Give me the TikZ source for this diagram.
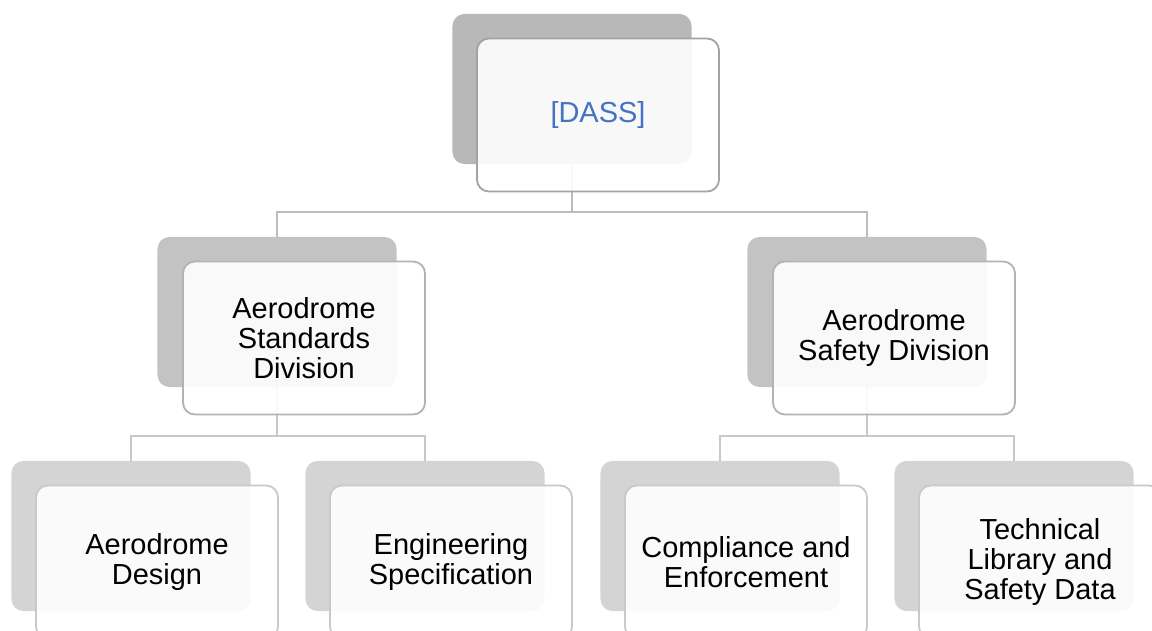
\documentclass[tikz,border=0pt]{standalone}
\usepackage{fontspec}
\setmainfont{Liberation Sans}
\usepackage{tikz}
\definecolor{dassblue}{HTML}{4472C4}
\definecolor{back1}{HTML}{B8B8B8}
\definecolor{back2}{HTML}{C3C3C3}
\definecolor{back3}{HTML}{D4D4D4}
\definecolor{edge1}{HTML}{A3A3A3}
\definecolor{edge2}{HTML}{B3B3B3}
\definecolor{edge3}{HTML}{C9C9C9}
\definecolor{link1}{HTML}{BDBDBD}
\definecolor{link2}{HTML}{C8C8C8}
\tikzstyle{backcard} = [rounded corners=0.3cm, minimum width=5.975cm, minimum height=3.75cm, inner sep=0pt]
\tikzstyle{frontcard} = [draw, line width=1.3pt, fill=white, fill opacity=0.9, text opacity=1, rounded corners=0.3cm, minimum width=6.05cm, minimum height=3.825cm, inner sep=0pt, align=center, font=\fontsize{20.6}{21.3}\selectfont]
\tikzstyle{link} = [line width=1.4pt]

\begin{document}
\begin{tikzpicture}[x=0.025cm, y=-0.025cm]
\useasboundingbox (0,0) rectangle (1152,631);
\clip (0,0) rectangle (1152,631);
\node[backcard, fill=back1] (dassback) at (572,89) {};
\node[backcard, fill=back2] (asdback) at (277,312) {};
\node[backcard, fill=back2] (afdback) at (867,312) {};
\node[backcard, fill=back3] (adback) at (131,536) {};
\node[backcard, fill=back3] (esback) at (425,536) {};
\node[backcard, fill=back3] (ceback) at (720,536) {};
\node[backcard, fill=back3] (tlback) at (1014,536) {};
\draw[link, draw=link1] (dassback.south) -- ++(0,48) -| (asdback.north);
\draw[link, draw=link1] (dassback.south) -- ++(0,48) -| (afdback.north);
\draw[link, draw=link2] (asdback.south) -- ++(0,49) -| (adback.north);
\draw[link, draw=link2] (asdback.south) -- ++(0,49) -| (esback.north);
\draw[link, draw=link2] (afdback.south) -- ++(0,49) -| (ceback.north);
\draw[link, draw=link2] (afdback.south) -- ++(0,49) -| (tlback.north);
\node[frontcard, draw=edge1, text=dassblue] (dass) at (598,115) {[DASS]};
\node[frontcard, draw=edge2] (asd) at (304,338) {Aerodrome\\Standards\\Division};
\node[frontcard, draw=edge2] (afd) at (894,338) {Aerodrome\\Safety Division};
\node[frontcard, draw=edge3] (ad) at (157,562) {Aerodrome\\Design};
\node[frontcard, draw=edge3] (es) at (451,562) {Engineering\\Specification};
\node[frontcard, draw=edge3] (ce) at (746,562) {Compliance and\\Enforcement};
\node[frontcard, draw=edge3] (tl) at (1040,562) {Technical\\Library and\\Safety Data};
\end{tikzpicture}
\end{document}
